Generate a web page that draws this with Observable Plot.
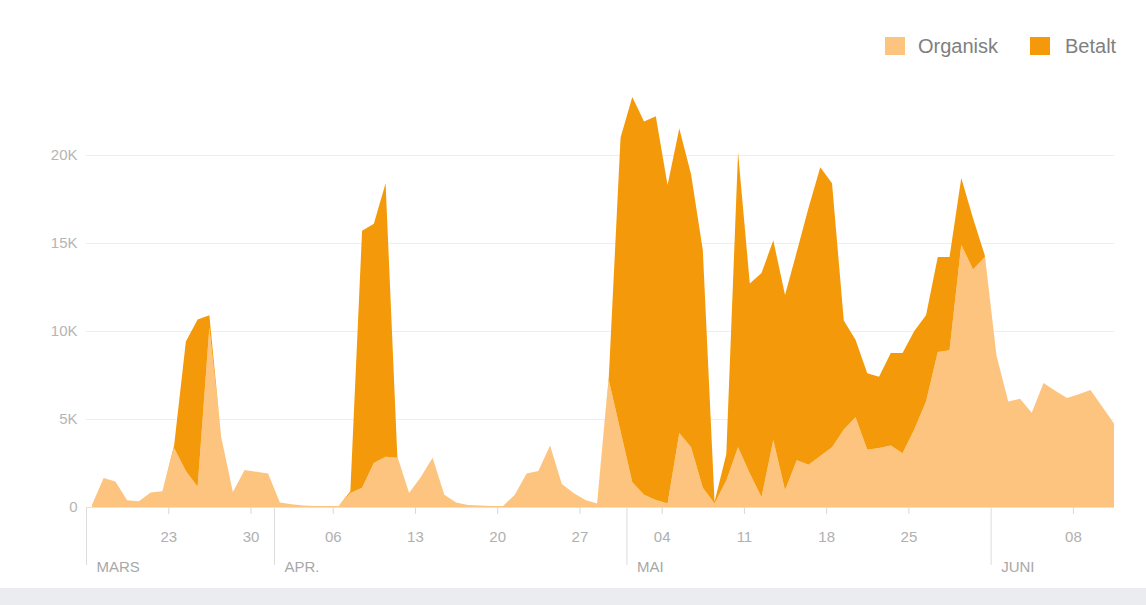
<!DOCTYPE html>
<html>
<head>
<meta charset="utf-8">
<script src="https://cdn.jsdelivr.net/npm/d3@7"></script>
<script src="https://cdn.jsdelivr.net/npm/@observablehq/plot@0.6"></script>
<style>
  body { margin: 0; background: #fff; font-family: "Liberation Sans", Arial, sans-serif; }
  #wrap { position: relative; width: 1146px; height: 605px; overflow: hidden; }
  #band { position: absolute; left: 0; top: 588px; width: 1146px; height: 17px; background: #ebecf0; }
  .sw { position: absolute; width: 20px; height: 18px; }
  .lt { position: absolute; font-size: 20px; color: #808080; line-height: 20px; }
</style>
</head>
<body>
<div id="wrap">
  <div id="chart"></div>
  <div id="legend"></div>
  <div id="band"></div>
</div>
<script>
// ---- data (daily values, 16 March – 11 June 2020) ----
const startDay = [2020, 2, 16];
const organisk = [
  100, 1650, 1450, 380, 330, 820, 900, 3350, 2050, 1150,
  10200, 4000, 850, 2100, 2000, 1900, 250, 150, 80, 50,
  50, 60, 800, 1100, 2500, 2850, 2800, 800, 1700, 2800,
  700, 250, 120, 80, 60, 60, 700, 1900, 2050, 3500,
  1300, 800, 400, 200, 7200, 4300, 1400, 700, 400, 200,
  4200, 3400, 1100, 200, 1500, 3400, 1900, 550, 3800, 950,
  2650, 2400, 2900, 3400, 4400, 5100, 3250, 3350, 3500, 3050,
  4400, 6000, 8800, 8900, 14900, 13500, 14200, 8600, 6000, 6150,
  5350, 7050, 6600, 6200, 6400, 6650, 5700, 4750
];
const betalt = [
  0, 0, 0, 0, 0, 0, 0, 150, 7350, 9500,
  700, 0, 0, 0, 0, 0, 0, 0, 0, 0,
  0, 0, 100, 14600, 13600, 15550, 50, 0, 0, 0,
  0, 0, 0, 0, 0, 0, 0, 0, 0, 0,
  0, 0, 0, 0, 200, 16700, 21900, 21200, 21800, 18100,
  17300, 15500, 13500, 100, 1500, 16750, 10800, 12750, 11350, 11100,
  11850, 14600, 16400, 15000, 6200, 4400, 4350, 4050, 5250, 5700,
  5600, 4900, 5400, 5300, 3800, 2900, 100, 0, 0, 0,
  0, 0, 0, 0, 0, 0, 0, 0
];
const seriesNames = ["Organisk", "Betalt"];
const seriesColors = ["#fdc47f", "#f49a0a"];
const weekTicks = ["2020-03-23", "2020-03-30", "2020-04-06", "2020-04-13", "2020-04-20",
  "2020-04-27", "2020-05-04", "2020-05-11", "2020-05-18", "2020-05-25", "2020-06-08"];
const monthStarts = ["2020-03-16", "2020-04-01", "2020-05-01", "2020-06-01"];
const monthLabels = ["MARS", "APR.", "MAI", "JUNI"];
const yTicks = [0, 5000, 10000, 15000, 20000];

// ---- build table ----
const rows = [];
organisk.forEach((v, i) => {
  const date = new Date(Date.UTC(startDay[0], startDay[1], startDay[2] + i, 12));
  rows.push({date, series: seriesNames[0], value: v});
  rows.push({date, series: seriesNames[1], value: betalt[i]});
});
const parse = s => new Date(s + "T00:00:00Z");
const weekDates = weekTicks.map(parse);
const monthDates = monthStarts.map(parse);
const monthMap = new Map(monthDates.map((d, i) => [+d, monthLabels[i]]));
const lastDate = new Date(Date.UTC(startDay[0], startDay[1], startDay[2] + organisk.length - 1, 12));

const chart = Plot.plot({
  width: 1146,
  height: 588,
  marginLeft: 86,
  marginRight: 32,
  marginTop: 84.6,
  marginBottom: 81,
  style: {fontFamily: "'Liberation Sans', Arial, sans-serif", fontSize: "15px", background: "transparent", overflow: "visible"},
  x: {type: "utc", domain: [monthDates[0], lastDate], axis: null, label: null},
  y: {domain: [0, 24000], axis: null, label: null},
  color: {domain: seriesNames, range: seriesColors},
  marks: [
    Plot.ruleY(yTicks.filter(d => d > 0), {stroke: "#eeeeee", strokeWidth: 1}),
    Plot.areaY(rows, {x: "date", y: "value", fill: "series", order: seriesNames, curve: "linear"}),
    Plot.ruleY([0], {stroke: "#e3e3e3"}),
    Plot.axisY(yTicks, {
      label: null, tickSize: 0, tickPadding: 9, fontSize: 15,
      tickFormat: d => d === 0 ? "0" : (d / 1000) + "K",
      fill: "#b5b5b5"
    }),
    Plot.axisX(weekDates, {
      label: null, tickSize: 7, tickPadding: 17, fontSize: 15,
      tickFormat: d3.utcFormat("%d"),
      stroke: "#d8d8d8", fill: "#b0b0b0"
    }),
    Plot.axisX(monthDates, {
      label: null, tickSize: 58, tickFormat: () => "",
      stroke: "#dddddd"
    }),
    Plot.axisX(monthDates, {
      label: null, tickSize: 0, tickPadding: 54, fontSize: 15,
      tickFormat: d => monthMap.get(+d),
      textAnchor: "start", dx: 10,
      stroke: "none", fill: "#a8a8a8"
    })
  ]
});
document.getElementById("chart").appendChild(chart);

// ---- legend ----
const legend = document.getElementById("legend");
const swX = [885, 1030], txX = [918, 1065];
seriesNames.forEach((name, i) => {
  const sw = document.createElement("div");
  sw.className = "sw";
  sw.style.left = swX[i] + "px";
  sw.style.top = "37px";
  sw.style.background = seriesColors[i];
  legend.appendChild(sw);
  const t = document.createElement("div");
  t.className = "lt";
  t.style.left = txX[i] + "px";
  t.style.top = "36px";
  t.textContent = name;
  legend.appendChild(t);
});
</script>
</body>
</html>
